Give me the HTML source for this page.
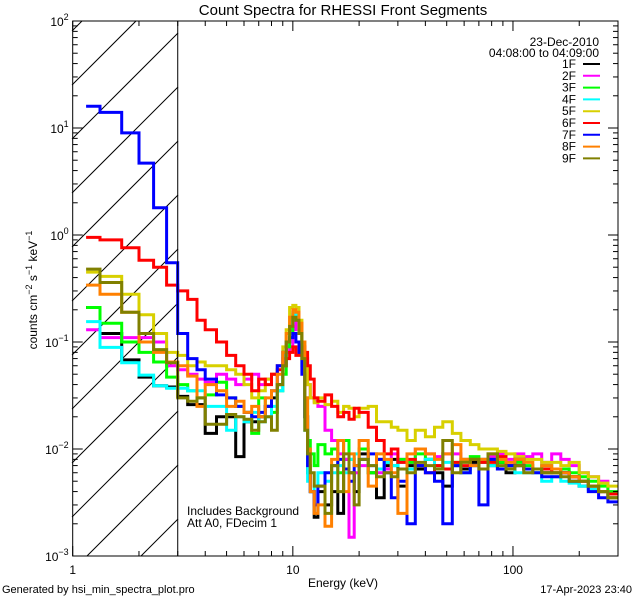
<!DOCTYPE html>
<html><head><meta charset="utf-8"><style>
html,body{margin:0;padding:0;background:#fff;width:640px;height:600px;overflow:hidden;}
svg{display:block;position:absolute;left:0;top:0;font-family:"Liberation Sans",sans-serif;}
</style></head><body>
<svg id="chart" width="640" height="600" viewBox="0 0 640 600" xmlns="http://www.w3.org/2000/svg">
<rect width="640" height="600" fill="#fff"/>
<text x="343" y="15" font-size="15" text-anchor="middle">Count Spectra for RHESSI Front Segments</text>
<defs><clipPath id="plotclip"><rect x="72" y="21" width="546" height="535"/></clipPath></defs>
<g id="hatch"></g>
<g id="series" clip-path="url(#plotclip)"></g>
<g id="axes"></g>
<text x="187" y="515" font-size="12">Includes Background</text>
<text x="187" y="527" font-size="12">Att A0, FDecim 1</text>
<text x="599" y="46" font-size="12" text-anchor="end">23-Dec-2010</text>
<text x="599" y="57" font-size="12" text-anchor="end">04:08:00 to 04:09:00</text>
<g id="legend"></g>
<text x="343" y="587" font-size="12" text-anchor="middle">Energy (keV)</text>
<text transform="translate(37,290) rotate(-90)" font-size="12" text-anchor="middle">counts cm<tspan font-size="9" dy="-5">−2</tspan><tspan dy="5"> s</tspan><tspan font-size="9" dy="-5">−1</tspan><tspan dy="5"> keV</tspan><tspan font-size="9" dy="-5">−1</tspan></text>
<text x="2" y="593" font-size="11">Generated by hsi_min_spectra_plot.pro</text>
<text x="632" y="593" font-size="11" text-anchor="end">17-Apr-2023 23:40</text>
</svg>
<script>
const edges=[1.15,1.33,1.67,2,2.33,2.67,3,3.33,3.67,4,4.5,5,5.5,6,6.5,7,7.5,8,8.5,9,9.33,9.67,10,10.33,10.67,11,11.33,11.67,12,12.5,13,14,15,16,17,18,19,20,22,24,26,28,30,33,36,40,44,48,53,58,64,70,77,85,93,102,112,123,135,150,165,180,200,220,245,270,300];
const seriesNames=["1F","2F","3F","4F","5F","6F","7F","8F","9F"];
const seriesColors=["#000000","#ff00ff","#00ff00","#00ffff","#d8d000","#ff0000","#0000ff","#ff8000","#808000"];
const s1F=[0.21,0.12,0.068,0.047,0.039,0.038, 0.031,0.026,0.026,0.014,0.02,0.02,0.0085,0.018,0.018,0.02,0.025,0.03,0.04,0.06,0.1,0.13,0.17,0.16,0.12,0.08,0.02,0.006,0.004,0.0023,0.004,0.003, 0.004,0.0025,0.008,0.006,0.004,0.009,0.006,0.0035,0.007,0.008,0.0045,0.007,0.0065,0.008,0.006,0.0045,0.007,0.0065,0.0075,0.008,0.007,0.0075,0.006,0.007,0.0065,0.0065,0.006,0.0065,0.006,0.0055,0.0045,0.0045,0.004,0.0035];
const s2F=[0.13,0.11,0.11,0.11,0.1,0.06, 0.055,0.05,0.045,0.042,0.05,0.045,0.04,0.045,0.05,0.04,0.045,0.05,0.06,0.07,0.08,0.09,0.13,0.17,0.15,0.1,0.07,0.04,0.03,0.028,0.025,0.015, 0.012,0.009,0.008,0.0015,0.006,0.007,0.007,0.006,0.0065,0.009,0.008,0.0075,0.01,0.009,0.0085,0.009,0.009,0.008,0.008,0.0075,0.0085,0.009,0.008,0.009,0.0085,0.009,0.0075,0.009,0.008,0.007,0.006,0.0055,0.005,0.004];
const s3F=[0.21,0.15,0.1,0.08,0.065,0.047, 0.04,0.035,0.03,0.032,0.042,0.03,0.025,0.022,0.014,0.03,0.025,0.022,0.035,0.05,0.09,0.12,0.18,0.17,0.13,0.08,0.03,0.012,0.009,0.007,0.011,0.009, 0.01,0.006,0.012,0.008,0.007,0.01,0.006,0.008,0.0075,0.007,0.008,0.0075,0.009,0.008,0.007,0.0065,0.0075,0.008,0.0085,0.0075,0.008,0.0075,0.007,0.0075,0.007,0.0065,0.007,0.006,0.0065,0.006,0.0055,0.005,0.0045,0.004];
const s4F=[0.155,0.089,0.064,0.049,0.039,0.037, 0.037,0.035,0.035,0.025,0.025,0.015,0.02,0.018,0.022,0.018,0.02,0.025,0.035,0.06,0.1,0.15,0.19,0.17,0.12,0.06,0.015,0.005,0.004,0.0045,0.006,0.005, 0.006,0.007,0.006,0.008,0.009,0.008,0.007,0.0065,0.0075,0.007,0.0075,0.0065,0.007,0.008,0.0065,0.0075,0.007,0.006,0.007,0.0075,0.007,0.0065,0.0065,0.006,0.006,0.006,0.005,0.0055,0.005,0.0048,0.0045,0.0042,0.004,0.0035];
const s5F=[0.45,0.41,0.28,0.18,0.12,0.08, 0.075,0.06,0.065,0.06,0.06,0.055,0.05,0.04,0.03,0.035,0.045,0.05,0.06,0.09,0.13,0.21,0.22,0.21,0.16,0.1,0.06,0.04,0.03,0.027,0.03,0.026, 0.028,0.022,0.025,0.024,0.02,0.024,0.025,0.018,0.018,0.016,0.015,0.012,0.015,0.013,0.016,0.018,0.014,0.012,0.011,0.01,0.01,0.0095,0.009,0.0085,0.008,0.008,0.0075,0.0075,0.007,0.0075,0.006,0.0055,0.0048,0.0045];
const s6F=[0.95,0.9,0.76,0.58,0.5,0.34, 0.3,0.25,0.16,0.13,0.1,0.075,0.06,0.05,0.035,0.045,0.04,0.05,0.055,0.06,0.07,0.08,0.09,0.075,0.08,0.09,0.08,0.06,0.045,0.03,0.028,0.032, 0.025,0.02,0.022,0.019,0.024,0.022,0.016,0.012,0.009,0.01,0.0075,0.008,0.007,0.006,0.007,0.0065,0.0075,0.007,0.008,0.0075,0.0075,0.0085,0.007,0.007,0.0065,0.0065,0.0065,0.006,0.006,0.0055,0.005,0.0045,0.004,0.0038];
const s7F=[16,14,9,4.7,1.8,0.55, 0.12,0.07,0.055,0.045,0.032,0.03,0.025,0.022,0.02,0.022,0.025,0.035,0.06,0.08,0.1,0.11,0.12,0.1,0.08,0.05,0.02,0.007,0.004,0.003,0.0045,0.006, 0.007,0.008,0.0065,0.005,0.007,0.008,0.009,0.008,0.006,0.0035,0.005,0.002,0.007,0.006,0.005,0.002,0.007,0.006,0.007,0.003,0.008,0.0065,0.007,0.008,0.0065,0.006,0.0055,0.0055,0.006,0.005,0.005,0.004,0.0035,0.0032];
const s8F=[0.34,0.28,0.19,0.1,0.08,0.065, 0.06,0.048,0.025,0.04,0.035,0.025,0.028,0.022,0.025,0.02,0.03,0.035,0.05,0.08,0.12,0.17,0.2,0.19,0.15,0.1,0.03,0.01,0.004,0.0025,0.003,0.0019, 0.008,0.012,0.004,0.009,0.007,0.012,0.0045,0.009,0.008,0.006,0.0025,0.009,0.01,0.009,0.008,0.009,0.011,0.008,0.007,0.008,0.009,0.008,0.0075,0.008,0.0075,0.0065,0.007,0.0065,0.006,0.0055,0.005,0.0045,0.004,0.0035];
const s9F=[0.48,0.36,0.19,0.12,0.085,0.064, 0.03,0.028,0.03,0.017,0.017,0.021,0.02,0.019,0.015,0.018,0.02,0.015,0.04,0.06,0.1,0.14,0.17,0.16,0.12,0.07,0.015,0.009,0.006,0.0045,0.0045,0.0025, 0.007,0.004,0.009,0.006,0.003,0.008,0.007,0.0055,0.006,0.0055,0.0065,0.006,0.0075,0.007,0.0065,0.012,0.006,0.0075,0.008,0.0065,0.009,0.007,0.0065,0.007,0.006,0.0065,0.006,0.006,0.0055,0.005,0.005,0.0045,0.004,0.0035];
const allSeries=[s1F,s2F,s3F,s4F,s5F,s6F,s7F,s8F,s9F];
const xMajor=[1,10,100];
const xMajorLabels=["1","10","100"];
const yExponents=[-3,-2,-1,0,1,2];

const NS="http://www.w3.org/2000/svg";
const X0=72.7,X1=618,Y0=21,Y1=556,XMIN=1,XMAX=300,YMIN=-3,YMAX=2;
function xs(e){return X0+(Math.log10(e)-Math.log10(XMIN))/(Math.log10(XMAX)-Math.log10(XMIN))*(X1-X0);}
function ys(v){return Y0+(YMAX-Math.log10(v))/(YMAX-YMIN)*(Y1-Y0);}
function mk(tag,attrs,parent){const el=document.createElementNS(NS,tag);for(const k in attrs)el.setAttribute(k,attrs[k]);parent.appendChild(el);return el;}

// hatch lines (slope -1), manually clipped to x 72..178, y 21..556
const hatch=document.getElementById('hatch');
const HX0=72,HX1=178,HY0=21,HY1=556;
for(let c=31;c<HY1+(HX1-HX0);c+=54){
  // line: y = c - (x - HX0)
  let xa=HX0,ya=c;
  if(ya>HY1){xa=HX0+(ya-HY1);ya=HY1;}
  let xb=HX1,yb=c-(HX1-HX0);
  if(yb<HY0){xb=HX0+(c-HY0);yb=HY0;}
  if(xa>=xb)continue;
  const l=mk('line',{x1:xa,y1:ya,x2:xb,y2:yb,stroke:'#000','stroke-width':1},hatch);
  
  
}
const sg=document.getElementById('series');
allSeries.forEach((vals,si)=>{
  let d='';
  vals.forEach((v,i)=>{
    const xa=xs(edges[i]).toFixed(1),xb=xs(edges[i+1]).toFixed(1),y=ys(v).toFixed(1);
    d+=(i===0?'M':'L')+xa+','+y+'L'+xb+','+y;
  });
  const p=mk('path',{d:d,fill:'none',stroke:seriesColors[si],'stroke-width':3,'stroke-linejoin':'miter'},sg);
  
  
});
const ax=document.getElementById('axes');
const frame=mk('rect',{x:X0,y:Y0,width:X1-X0,height:Y1-Y0,fill:'none',stroke:'#000','stroke-width':1},ax);


const vline=mk('line',{x1:xs(3),y1:Y0,x2:xs(3),y2:Y1,stroke:'#000','stroke-width':1},ax);


for(let dec=1;dec<=100;dec*=10){
  for(let m=1;m<=9;m++){
    const e=dec*m; if(e>XMAX)break;
    const x=xs(e),len=(m===1)?10:5;
    mk('line',{x1:x,y1:Y1,x2:x,y2:Y1-len,stroke:'#000'},ax);
    mk('line',{x1:x,y1:Y0,x2:x,y2:Y0+len,stroke:'#000'},ax);
  }
}
xMajor.forEach((e,i)=>{
  const t=mk('text',{x:xs(e),y:Y1+18,'font-size':12,'text-anchor':'middle'},ax);
  t.textContent=xMajorLabels[i];
  
  
});
yExponents.forEach((p,i)=>{
  for(let m=1;m<=9;m++){
    if(p===YMAX&&m>1)break;
    const y=ys(m*Math.pow(10,p)),len=(m===1)?10:5;
    mk('line',{x1:X0,y1:y,x2:X0+len,y2:y,stroke:'#000'},ax);
    mk('line',{x1:X1,y1:y,x2:X1-len,y2:y,stroke:'#000'},ax);
  }
  const t=mk('text',{x:X0-4,y:ys(Math.pow(10,p))+5,'font-size':12,'text-anchor':'end'},ax);
  
  
  const b=document.createElementNS(NS,'tspan');b.textContent='10';t.appendChild(b);
  const s=document.createElementNS(NS,'tspan');s.setAttribute('font-size','9');s.setAttribute('dy','-6');s.textContent=(p<0?'−':'')+Math.abs(p);t.appendChild(s);
});
const lg=document.getElementById('legend');
seriesNames.forEach((n,i)=>{
  const y=64+i*11.8;
  const t=mk('text',{x:576,y:y+4,'font-size':12,'text-anchor':'end'},lg);
  t.textContent=n;
  
  
  const l=mk('line',{x1:583,y1:y,x2:600,y2:y,stroke:seriesColors[i],'stroke-width':2},lg);
  
  
});
</script>
</body></html>
